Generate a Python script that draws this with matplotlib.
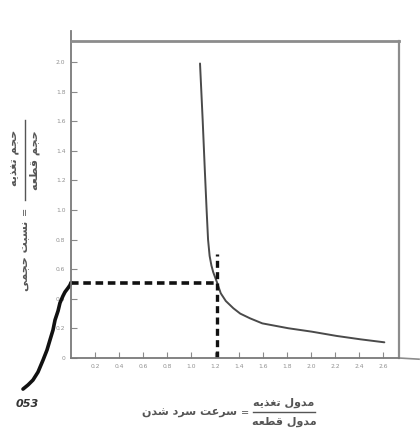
import matplotlib
matplotlib.use("Agg")
import matplotlib.pyplot as plt
from matplotlib.lines import Line2D

# ---- data -------------------------------------------------------------
# cooling-rate curve (modulus ratio vs. volume ratio)
curve_x = [1.075, 1.097, 1.115, 1.13, 1.142, 1.155, 1.17, 1.185, 1.20, 1.217,
           1.248, 1.29, 1.353, 1.41, 1.492, 1.594, 1.811, 2.006, 2.214,
           2.414, 2.611]
curve_y = [1.99, 1.61, 1.27, 1.00, 0.80, 0.69, 0.625, 0.58, 0.547, 0.51,
           0.437, 0.385, 0.336, 0.30, 0.268, 0.234, 0.201, 0.178, 0.149,
           0.126, 0.106]

# bracket-like S stroke to the left of the origin
s_x = [-0.40, -0.358, -0.317, -0.275, -0.233, -0.20, -0.175, -0.15,
       -0.133, -0.108, -0.092, -0.067, -0.05, -0.025, -0.008, 0.0]
s_y = [-0.21, -0.182, -0.149, -0.095, -0.014, 0.054, 0.122, 0.189,
       0.257, 0.318, 0.372, 0.419, 0.446, 0.473, 0.493, 0.51]

# marked operating point
mark_x = 1.22
mark_y = 0.51
mark_top = 0.70

x_ticks = [0.2, 0.4, 0.6, 0.8, 1.0, 1.2, 1.4, 1.6, 1.8, 2.0, 2.2, 2.4, 2.6]
x_tick_labels = ["0.2", "0.4", "0.6", "0.8", "1.0", "1.2", "1.4", "1.6",
                 "1.8", "2.0", "2.2", "2.4", "2.6"]
y_ticks = [0, 0.2, 0.4, 0.6, 0.8, 1.0, 1.2, 1.4, 1.6, 1.8, 2.0]
y_tick_labels = ["0", "0.2", "0.4", "0.6", "0.8", "1.0", "1.2", "1.4",
                 "1.6", "1.8", "2.0"]

# ---- minimal Persian shaping (presentation forms, visual order) -------
FORMS = {
    'ا': ('\uFE8D', '\uFE8E', None, None),
    'ب': ('\uFE8F', '\uFE90', '\uFE91', '\uFE92'),
    'ت': ('\uFE95', '\uFE96', '\uFE97', '\uFE98'),
    'ج': ('\uFE9D', '\uFE9E', '\uFE9F', '\uFEA0'),
    'ح': ('\uFEA1', '\uFEA2', '\uFEA3', '\uFEA4'),
    'د': ('\uFEA9', '\uFEAA', None, None),
    'ذ': ('\uFEAB', '\uFEAC', None, None),
    'ر': ('\uFEAD', '\uFEAE', None, None),
    'س': ('\uFEB1', '\uFEB2', '\uFEB3', '\uFEB4'),
    'ش': ('\uFEB5', '\uFEB6', '\uFEB7', '\uFEB8'),
    'ط': ('\uFEC1', '\uFEC2', '\uFEC3', '\uFEC4'),
    'ع': ('\uFEC9', '\uFECA', '\uFECB', '\uFECC'),
    'غ': ('\uFECD', '\uFECE', '\uFECF', '\uFED0'),
    'ق': ('\uFED5', '\uFED6', '\uFED7', '\uFED8'),
    'ل': ('\uFEDD', '\uFEDE', '\uFEDF', '\uFEE0'),
    'م': ('\uFEE1', '\uFEE2', '\uFEE3', '\uFEE4'),
    'ن': ('\uFEE5', '\uFEE6', '\uFEE7', '\uFEE8'),
    'ه': ('\uFEE9', '\uFEEA', '\uFEEB', '\uFEEC'),
    'و': ('\uFEED', '\uFEEE', None, None),
    'ی': ('\uFBFC', '\uFBFD', '\uFBFE', '\uFBFF'),
}


def shape(text):
    chars = list(text)
    out = []
    for i, c in enumerate(chars):
        if c not in FORMS:
            out.append(c)
            continue
        prev = chars[i - 1] if i > 0 else None
        nxt = chars[i + 1] if i + 1 < len(chars) else None
        join_prev = prev in FORMS and FORMS[prev][2] is not None
        join_next = nxt in FORMS and FORMS[c][2] is not None
        iso, fin, ini, med = FORMS[c]
        if join_prev and join_next:
            out.append(med)
        elif join_prev:
            out.append(fin)
        elif join_next:
            out.append(ini)
        else:
            out.append(iso)
    return ''.join(reversed(out))


# ---- figure -----------------------------------------------------------
W, H = 420, 434
fig = plt.figure(figsize=(W / 100, H / 100), dpi=100)
fig.patch.set_facecolor("white")


def fx(px):
    return px / W


def fy(py):
    return 1 - py / H


ax = fig.add_axes([fx(71), fy(358), fx(399) - fx(71), fy(41) - fy(358)])
ax.set_xlim(0, 2.733)
ax.set_ylim(0, 2.142)
ax.set_facecolor("white")

axis_col = "#8a8a8a"
for side in ("left", "bottom"):
    ax.spines[side].set_color("#7a7a7a")
    ax.spines[side].set_linewidth(1.3)
ax.spines["top"].set_color("#8c8c8c")
ax.spines["top"].set_linewidth(2.0)
ax.spines["right"].set_color("#8c8c8c")
ax.spines["right"].set_linewidth(1.6)

ax.set_xticks(x_ticks)
ax.set_xticklabels(x_tick_labels)
ax.set_yticks(y_ticks)
ax.set_yticklabels(y_tick_labels)
ax.tick_params(direction="in", length=4, width=0.8, color=axis_col,
               labelsize=4.3, labelcolor="#909090", pad=4)

# extensions of the frame lines beyond the plotting box
ax.plot([0, 0], [2.142, 2.21], color="#7a7a7a", lw=1.3, clip_on=False)
ax.plot([2.733, 2.9], [0, -0.008], color="#8c8c8c", lw=1.2, clip_on=False)

# main curve
ax.plot(curve_x, curve_y, color="#4a4a4a", lw=1.4, solid_capstyle="round",
        solid_joinstyle="round")

# S stroke at the origin
ax.plot(s_x, s_y, color="#111111", lw=2.6, clip_on=False,
        solid_capstyle="round", solid_joinstyle="round")

# dashed guides to the marked point
ax.plot([0, mark_x], [mark_y, mark_y], color="#111111", lw=2.6,
        dashes=(2.1, 1.3))
ax.plot([mark_x, mark_x], [0, mark_top], color="#111111", lw=2.4,
        dashes=(2.1, 1.3))

ax.text(-0.367, -0.31, "053", fontsize=8, style="italic", weight="bold",
        color="#333333", ha="center", va="center", clip_on=False)

# ---- axis titles ------------------------------------------------------
lab_col = "#555555"
ar_font = "DejaVu Sans"

# vertical title: volume ratio
fig.text(fx(15), fy(158), shape("حجم تغذیه"), rotation=90, ha="center",
         va="center", fontsize=8, color=lab_col, family=ar_font,
         weight="bold")
fig.text(fx(35), fy(160), shape("حجم قطعه"), rotation=90, ha="center",
         va="center", fontsize=8, color=lab_col, family=ar_font,
         weight="bold")
fig.add_artist(Line2D([fx(25), fx(25)], [fy(120), fy(200)], color=lab_col,
                      lw=1.0))
fig.text(fx(25), fy(211), "=", rotation=90, ha="center", va="center",
         fontsize=7, color=lab_col)
fig.text(fx(25), fy(256), shape("نسبت حجمی"), rotation=90, ha="center",
         va="center", fontsize=8, color=lab_col, family=ar_font,
         weight="bold")

# horizontal title: cooling rate
fig.text(fx(190), fy(413), shape("سرعت سرد شدن"), ha="center", va="center",
         fontsize=8, color=lab_col, family=ar_font, weight="bold")
fig.text(fx(245), fy(413), "=", ha="center", va="center", fontsize=7,
         color=lab_col)
fig.text(fx(284), fy(403), shape("مدول تغذیه"), ha="center", va="center",
         fontsize=8, color=lab_col, family=ar_font, weight="bold")
fig.text(fx(284), fy(422), shape("مدول قطعه"), ha="center", va="center",
         fontsize=8, color=lab_col, family=ar_font, weight="bold")
fig.add_artist(Line2D([fx(253), fx(315)], [fy(412), fy(412)], color=lab_col,
                      lw=1.0))

fig.savefig("out.png", dpi=100, facecolor="white")
